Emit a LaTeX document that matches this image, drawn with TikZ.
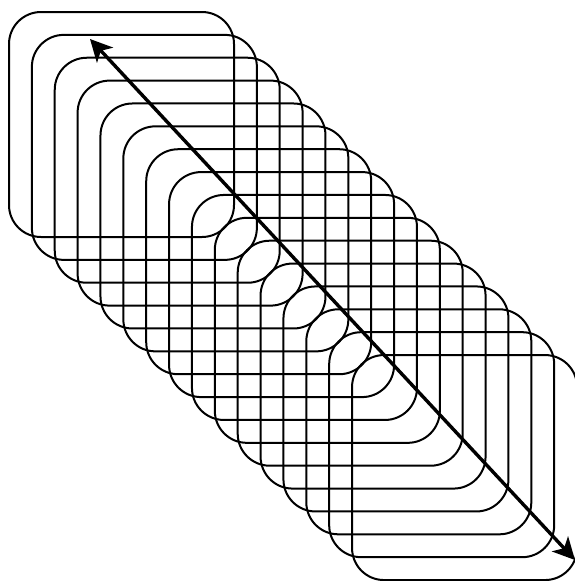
\documentclass[tikz,border=0pt]{standalone}
\usepackage{tikz}
\usetikzlibrary{arrows.meta}
\tikzset{
  tile/.style={draw, line width=2pt, rounded corners=32pt},
  diag/.style={{Stealth[length=22pt,width=22pt,inset=6pt]}-{Stealth[length=22pt,width=22pt,inset=6pt]}, line width=3.4pt},
}

\begin{document}
\begin{tikzpicture}[x=1pt,y=-1pt]
  \useasboundingbox (0,0) rectangle (575,581);
  % shifted rounded squares
  \foreach \k in {0,...,15}
    \draw[tile] ({9+22.87*\k},{12+22.87*\k}) rectangle ++(225,225);
  \coordinate (top) at (90,39);
  \coordinate (bot) at (575,560);
  \draw[diag] (top) -- (bot);
\end{tikzpicture}
\end{document}
